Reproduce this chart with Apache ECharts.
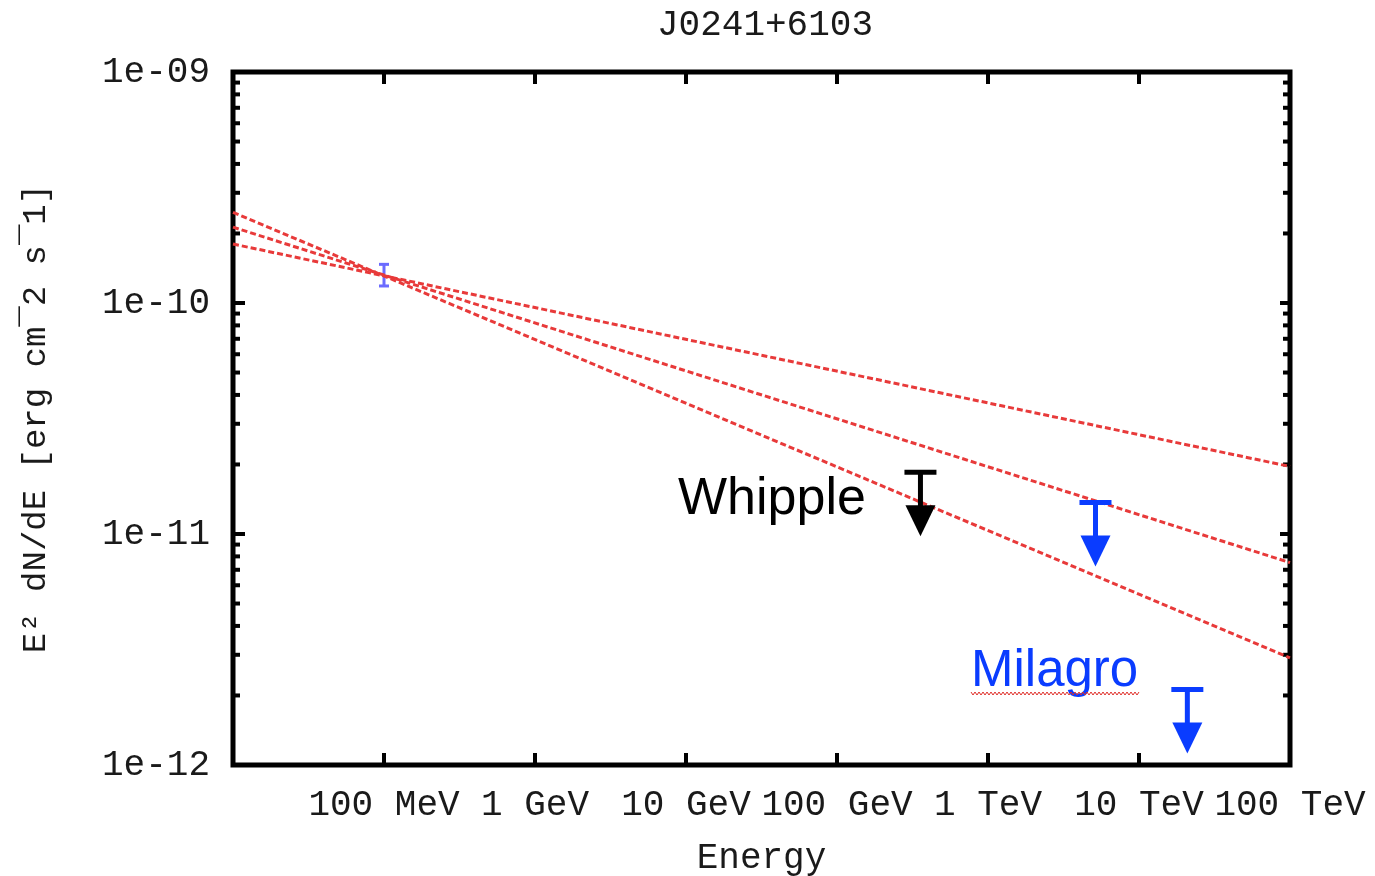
<!DOCTYPE html>
<html>
<head>
<meta charset="utf-8">
<script src="https://cdn.jsdelivr.net/npm/echarts@6/dist/echarts.min.js"></script>
<style>
html, body { margin: 0; padding: 0; background: #fff; }
#main { width: 1375px; height: 876px; }
</style>
</head>
<body>
<div id="main"></div>
<script>
// 坐标轴范围和刻度文字
var xRange = [0.01, 1e5];
var yRange = [1e-12, 1e-9];
var xTickLabels = ['', '100 MeV', '1 GeV', '10 GeV', '100 GeV', '1 TeV', '10 TeV', '100 TeV'];
var yTickLabels = ['1e-12', '1e-11', '1e-10', '1e-09'];
var minorMantissa = [2, 3, 4, 5, 6, 7, 8, 9];
var minorDecades = [1e-12, 1e-11, 1e-10];

// 三条幂律拟合线 (两端点)
var fitEnergy = [0.01, 1e5];
var fitHard = [1.80e-10, 1.96e-11];
var fitMid = [2.13e-10, 7.52e-12];
var fitSoft = [2.47e-10, 2.91e-12];

// 数据点及误差
var pointEnergy = [0.1];
var pointLow = [1.185e-10];
var pointHigh = [1.47e-10];

// 上限
var whippleEnergy = [357];
var whippleLimit = [1.85e-11];
var milagroEnergy = [5150, 20900];
var milagroLimit = [1.37e-11, 2.12e-12];

var monoFont = 'Liberation Mono';
var textColor = '#1a1a1a';

function pairs(xs, ys) {
    return xs.map(function (x, i) { return [x, ys[i]]; });
}

var minorData = [];
minorDecades.forEach(function (d) {
    minorMantissa.forEach(function (m) { minorData.push([xRange[0], m * d]); });
});

var myChart = echarts.init(document.getElementById('main'));

function fitLine(ys) {
    return {
        type: 'line',
        data: pairs(fitEnergy, ys),
        showSymbol: false,
        silent: true,
        z: 5,
        lineStyle: { color: '#e83a3a', width: 3, type: [6, 3] }
    };
}

function limitSeries(xs, ys, color) {
    return {
        type: 'custom',
        data: pairs(xs, ys),
        silent: true,
        z: 6,
        renderItem: function (params, api) {
            var p = api.coord([api.value(0), api.value(1)]);
            var st = { stroke: color, lineWidth: 5 };
            return {
                type: 'group',
                children: [
                    { type: 'line', shape: { x1: p[0] - 16, y1: p[1], x2: p[0] + 16, y2: p[1] }, style: st },
                    { type: 'line', shape: { x1: p[0], y1: p[1], x2: p[0], y2: p[1] + 36 }, style: st },
                    { type: 'polygon', shape: { points: [[p[0] - 15, p[1] + 33], [p[0] + 15, p[1] + 33], [p[0], p[1] + 64]] }, style: { fill: color } }
                ]
            };
        }
    };
}

// 拼写检查的红色波浪线
var squiggle = [];
for (var sx = 971; sx <= 1140; sx += 2) {
    squiggle.push([sx, (((sx - 971) / 2) % 2 === 0) ? 692 : 695]);
}

var option = {
    animation: false,
    backgroundColor: '#fff',
    title: {
        text: 'J0241+6103',
        left: 652,
        top: 2,
        textStyle: { fontFamily: monoFont, fontSize: 36, fontWeight: 'normal', color: textColor }
    },
    grid: {
        left: 233, right: 85, top: 72, bottom: 111,
        outerBoundsMode: 'none',
        containLabel: false,
        show: true, borderWidth: 5, borderColor: '#000', backgroundColor: 'transparent'
    },
    xAxis: [{
        type: 'log', logBase: 10, min: xRange[0], max: xRange[1],
        name: 'Energy', nameLocation: 'middle', nameGap: 75,
        nameTextStyle: { fontFamily: monoFont, fontSize: 36, color: textColor },
        axisLine: { show: false },
        axisTick: { inside: true, length: 12, lineStyle: { color: '#000', width: 4 } },
        splitLine: { show: false },
        axisLabel: {
            fontFamily: monoFont, fontSize: 36, color: textColor, margin: 22, hideOverlap: false,
            formatter: function (v) { return xTickLabels[Math.round(Math.log10(v)) + 2] || ''; }
        }
    }, {
        type: 'log', logBase: 10, min: xRange[0], max: xRange[1], position: 'top',
        axisLine: { show: false },
        axisTick: { inside: true, length: 12, lineStyle: { color: '#000', width: 4 } },
        splitLine: { show: false },
        axisLabel: { show: false }
    }],
    yAxis: [{
        type: 'log', logBase: 10, min: yRange[0], max: yRange[1],
        name: 'E² dN/dE [erg cm¯2 s¯1]', nameLocation: 'middle', nameRotate: 90, nameGap: 180,
        nameTextStyle: { fontFamily: monoFont, fontSize: 34, color: textColor },
        axisLine: { show: false },
        axisTick: { inside: true, length: 12, lineStyle: { color: '#000', width: 4 } },
        splitLine: { show: false },
        axisLabel: {
            fontFamily: monoFont, fontSize: 36, color: textColor, margin: 23,
            formatter: function (v) { return yTickLabels[Math.round(Math.log10(v)) + 12] || ''; }
        }
    }, {
        type: 'log', logBase: 10, min: yRange[0], max: yRange[1], position: 'right',
        axisLine: { show: false },
        axisTick: { inside: true, length: 10, lineStyle: { color: '#000', width: 4 } },
        splitLine: { show: false },
        axisLabel: { show: false }
    }],
    graphic: [
        { type: 'text', x: 678, y: 500, style: { text: 'Whipple', font: '52px "Liberation Sans"', fill: '#000', verticalAlign: 'middle' } },
        { type: 'text', x: 971, y: 672, style: { text: 'Milagro', font: '51px "Liberation Sans"', fill: '#0a3cff', verticalAlign: 'middle' } },
        { type: 'polyline', shape: { points: squiggle }, style: { stroke: '#e0302a', lineWidth: 1, fill: null } }
    ],
    series: [
        {
            // y 轴次刻度
            type: 'custom',
            data: minorData,
            silent: true,
            z: 3,
            renderItem: function (params, api) {
                var l = api.coord([xRange[0], api.value(1)]);
                var r = api.coord([xRange[1], api.value(1)]);
                var st = { stroke: '#000', lineWidth: 4 };
                return {
                    type: 'group',
                    children: [
                        { type: 'line', shape: { x1: l[0], y1: l[1], x2: l[0] + 7, y2: l[1] }, style: st },
                        { type: 'line', shape: { x1: r[0] - 7, y1: r[1], x2: r[0], y2: r[1] }, style: st }
                    ]
                };
            }
        },
        {
            type: 'custom',
            data: pointEnergy.map(function (e, i) { return [e, pointLow[i], pointHigh[i]]; }),
            encode: { x: 0, y: [1, 2] },
            silent: true,
            z: 4,
            renderItem: function (params, api) {
                var lo = api.coord([api.value(0), api.value(1)]);
                var hi = api.coord([api.value(0), api.value(2)]);
                var st = { stroke: '#6b6bff', lineWidth: 3 };
                return {
                    type: 'group',
                    children: [
                        { type: 'line', shape: { x1: lo[0], y1: lo[1], x2: hi[0], y2: hi[1] }, style: st },
                        { type: 'line', shape: { x1: lo[0] - 5, y1: lo[1], x2: lo[0] + 5, y2: lo[1] }, style: st },
                        { type: 'line', shape: { x1: hi[0] - 5, y1: hi[1], x2: hi[0] + 5, y2: hi[1] }, style: st }
                    ]
                };
            }
        },
        fitLine(fitHard),
        fitLine(fitMid),
        fitLine(fitSoft),
        limitSeries(whippleEnergy, whippleLimit, '#000'),
        limitSeries(milagroEnergy, milagroLimit, '#0a3cff')
    ]
};

myChart.setOption(option);
</script>
</body>
</html>
